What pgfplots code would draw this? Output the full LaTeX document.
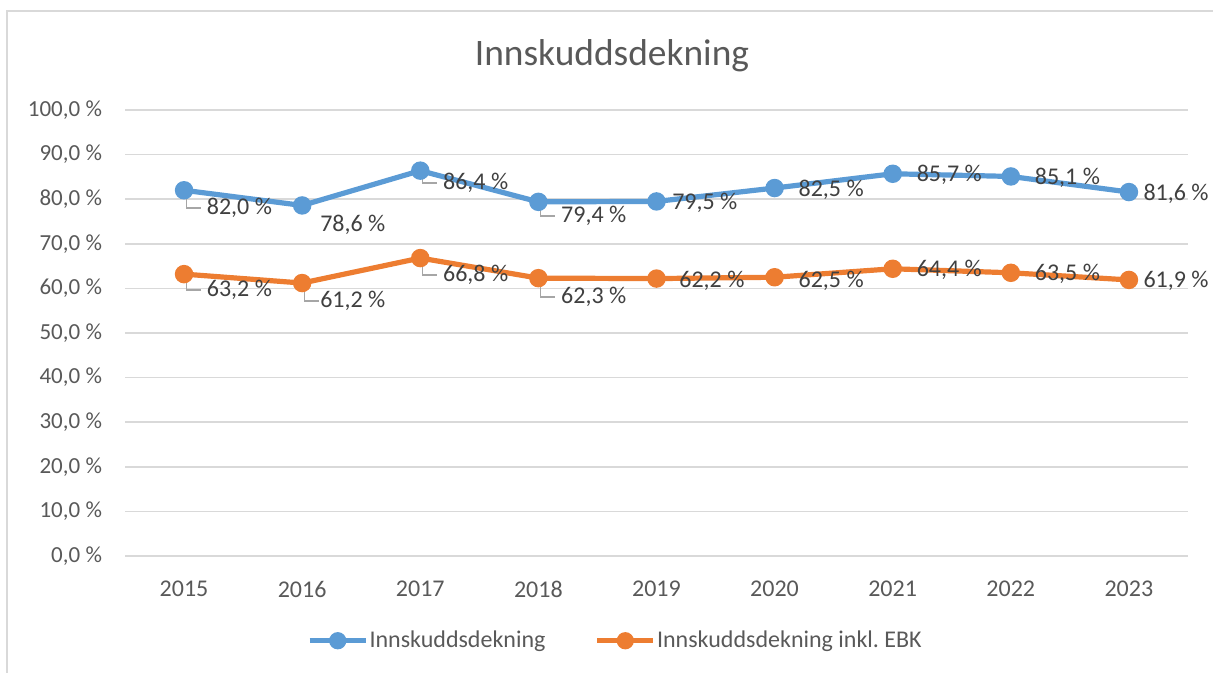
\documentclass[border=0pt]{standalone}
\usepackage{fontspec}
\setmainfont{Carlito}
\usepackage{pgfplots}
\pgfplotsset{compat=1.18}

\definecolor{bluS}{HTML}{5B9BD5}
\definecolor{oraS}{HTML}{ED7D31}
\definecolor{gridc}{HTML}{D9D9D9}
\definecolor{txt}{HTML}{595959}
\definecolor{lbl}{HTML}{404040}
\definecolor{lead}{HTML}{A6A6A6}

\begin{document}
\frenchspacing
\begin{tikzpicture}[x=1pt,y=1pt]
\useasboundingbox (0,0) rectangle (606.5,336.5);
% chart frame (left and top only visible)
\draw[gridc,line width=0.9pt] (3.5,0) -- (3.5,331) -- (606.5,331);
\node[font=\fontsize{18.7}{22}\selectfont,text=txt] at (306,308.5) {Innskuddsdekning};

\begin{axis}[
  at={(62.5pt,58.5pt)}, anchor=south west,
  scale only axis, width=531.5pt, height=223pt,
  xmin=2014.5, xmax=2023.5, ymin=0, ymax=100,
  xtick={2015,...,2023}, ytick={0,10,...,100},
  /pgf/number format/assume math mode=true,
  xticklabel style={/pgf/number format/set thousands separator={}, font=\fontsize{12}{14}\selectfont, text=txt, yshift=-9pt},
  yticklabel={\pgfmathprintnumber[fixed,fixed zerofill,precision=1,use comma]{\tick}~\%},
  yticklabel style={font=\fontsize{11.5}{13}\selectfont, text=txt, xshift=-8pt},
  major tick length=0pt,
  axis line style={draw=none},
  ymajorgrids, grid style={gridc, line width=0.8pt},
  legend columns=2,
  legend style={at={(0.461,-0.19)}, anchor=center, draw=none, fill=none,
    font=\fontsize{12}{14}\selectfont, text=txt,
    nodes={inner sep=0.6pt},
    /tikz/every even column/.append style={column sep=24pt}},
  legend cell align=left,
  legend image code/.code={\draw[mark repeat=2,mark phase=2,mark size=3pt,#1] plot coordinates {(0pt,0pt) (14pt,0pt) (28pt,0pt)};},
  clip=false,
]
\addplot[bluS, line width=2.6pt, mark=*, mark size=3.3pt] coordinates {
  (2015,82.0) (2016,78.6) (2017,86.4) (2018,79.4) (2019,79.5)
  (2020,82.5) (2021,85.7) (2022,85.1) (2023,81.6)
};
\addlegendentry{Innskuddsdekning}
\addplot[oraS, line width=2.6pt, mark=*, mark size=3.3pt] coordinates {
  (2015,63.2) (2016,61.2) (2017,66.8) (2018,62.3) (2019,62.2)
  (2020,62.5) (2021,64.4) (2022,63.5) (2023,61.9)
};
\addlegendentry{Innskuddsdekning inkl.\ EBK}

% leader lines
\begin{scope}[lead, line width=0.7pt]
\draw (axis cs:2015.02,80.2) |- (axis cs:2015.14,78.0);
\draw (axis cs:2017.02,84.6) |- (axis cs:2017.14,83.6);
\draw (axis cs:2018.02,77.6) |- (axis cs:2018.14,76.2);
\draw (axis cs:2015.02,61.4) |- (axis cs:2015.14,59.6);
\draw (axis cs:2016.02,59.4) |- (axis cs:2016.14,57.2);
\draw (axis cs:2017.02,65.0) |- (axis cs:2017.14,63.0);
\draw (axis cs:2018.02,60.5) |- (axis cs:2018.14,58.1);
\end{scope}

% data labels
\begin{scope}[every node/.style={anchor=west, inner sep=0pt, text=lbl, font=\fontsize{12}{14}\selectfont}]
\node at (axis cs:2015.19,78.0) {82,0 \%};
\node at (axis cs:2016.15,74.2) {78,6 \%};
\node at (axis cs:2017.19,83.6) {86,4 \%};
\node at (axis cs:2018.19,76.2) {79,4 \%};
\node at (axis cs:2019.13,79.1) {79,5 \%};
\node at (axis cs:2020.20,82.1) {82,5 \%};
\node at (axis cs:2021.20,85.4) {85,7 \%};
\node at (axis cs:2022.20,84.8) {85,1 \%};
\node at (axis cs:2023.12,81.2) {81,6 \%};
\node at (axis cs:2015.19,59.6) {63,2 \%};
\node at (axis cs:2016.15,57.2) {61,2 \%};
\node at (axis cs:2017.19,63.0) {66,8 \%};
\node at (axis cs:2018.19,58.1) {62,3 \%};
\node at (axis cs:2019.19,61.8) {62,2 \%};
\node at (axis cs:2020.20,61.8) {62,5 \%};
\node at (axis cs:2021.20,64.2) {64,4 \%};
\node at (axis cs:2022.20,63.3) {63,5 \%};
\node at (axis cs:2023.12,61.7) {61,9 \%};
\end{scope}
\end{axis}
\end{tikzpicture}
\end{document}
